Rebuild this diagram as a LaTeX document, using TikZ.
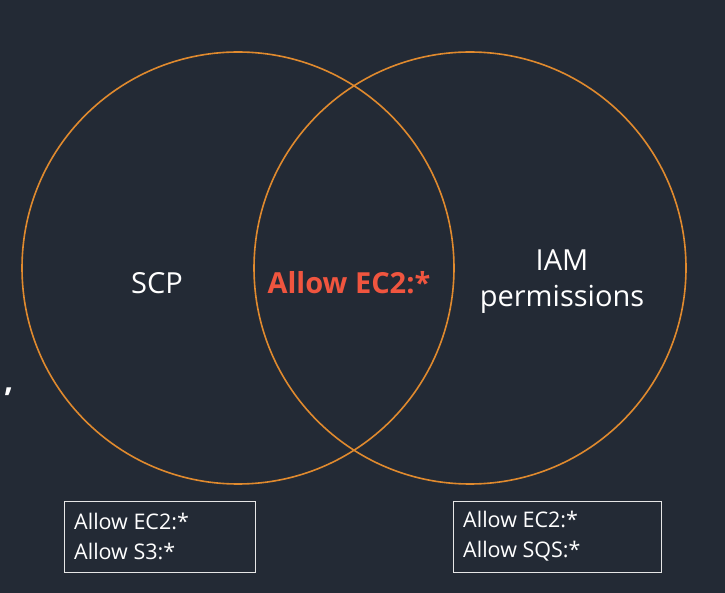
\documentclass[tikz,border=0pt]{standalone}
\usepackage{fontspec}
\setmainfont{Open Sans}
\definecolor{bg}{HTML}{232A35}
\definecolor{ring}{HTML}{E08A2E}
\definecolor{hl}{HTML}{F0553F}
\definecolor{boxline}{HTML}{E6E6E6}
\begin{document}
\begin{tikzpicture}[x=1pt,y=-1pt,
  ring/.style={draw=ring,line width=1.6pt},
  label/.style={text=white,font=\fontsize{29}{36}\selectfont,align=center,inner sep=0pt},
  listbox/.style={draw=boxline,line width=1pt,anchor=north west,inner sep=0pt},
  listtext/.style={text=white,font=\fontsize{21.5}{30}\selectfont,align=left,anchor=west,inner sep=0pt}]
\fill[bg] (0,0) rectangle (725,593);
\useasboundingbox (0,0) rectangle (725,593);
\draw[ring] (238,268) circle (216);
\draw[ring] (470,268) circle (216);
\node[label] (scp) at (157,283) {SCP};
\node[label] (iam) at (562,282) {IAM\\permissions};
\node[text=hl,font=\fontsize{29}{36}\selectfont\bfseries,inner sep=0pt] (both) at (349,283) {Allow EC2:*};
\node[text=white,font=\fontsize{32}{36}\selectfont\bfseries,anchor=west,inner sep=0pt] (comma) at (4,392) {,};
\node[listbox,minimum width=191pt,minimum height=71pt] (lbox) at (64,501) {};
\node[listtext] (ltext) at (74,536) {Allow EC2:*\\Allow S3:*};
\node[listbox,minimum width=208pt,minimum height=71pt] (rbox) at (453,501) {};
\node[listtext] (rtext) at (463,536) {Allow EC2:*\\Allow SQS:*};
\end{tikzpicture}
\end{document}
